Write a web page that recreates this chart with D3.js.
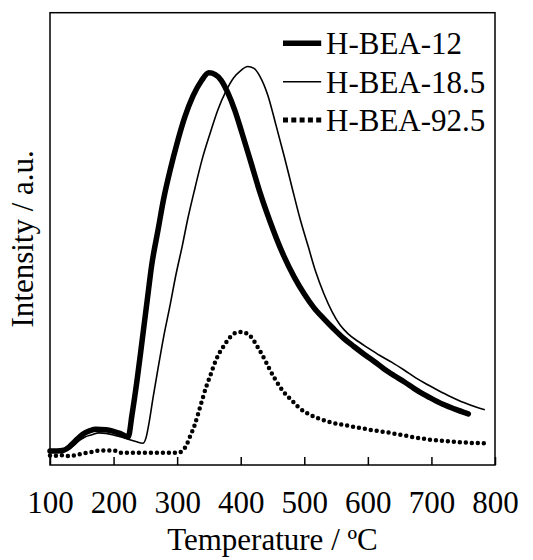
<!DOCTYPE html>
<html lang="en">
<head>
<meta charset="utf-8">
<script src="https://cdn.jsdelivr.net/npm/d3@7"></script>
</head>
<body style="margin:0;background:#fff">
<svg id="tpd" width="533" height="560" style="display:block" font-family="Liberation Serif">
</svg>
<script>
// ---- data (temperature in ºC, intensity in arbitrary units) ----
const seriesNames = ["H-BEA-12", "H-BEA-18.5", "H-BEA-92.5"];
const xTicks = [100, 200, 300, 400, 500, 600, 700, 800];

const bea12T = [100,111,122,131,139,147,155,163,172,188,201,210,223,229,237,245,253,260,270,279,289,300,312,325,338,350,360,369,380,391,402,415,430,446,465,484,500,515,531,547,562,578,594,610,625,641,657,673,688,704,720,736,758];
const bea12I = [3.1,3.1,3.3,4.1,5.2,6.3,7.1,7.6,7.9,7.8,7.4,7.0,6.2,11.1,18.8,27.6,36.5,44.2,52.0,59.0,65.2,71.2,76.9,81.6,84.9,86.7,86.3,85.1,82.2,78.3,73.4,67.4,60.4,53.9,47.1,41.6,37.8,34.8,32.3,30.0,28.0,26.2,24.5,22.9,21.3,19.8,18.4,16.9,15.6,14.4,13.3,12.4,11.3];

const bea185T = [100,111,122,131,139,147,155,166,177,188,201,212,223,235,246,251,256,262,270,279,289,298,308,317,328,339,352,364,377,389,400,411,421,430,443,455,468,481,493,506,518,531,544,556,569,585,600,619,638,657,676,695,713,732,751,770,784];
const bea185I = [3.0,3.0,3.1,3.6,4.5,5.5,6.2,6.7,7.1,7.0,6.6,6.2,5.7,5.2,4.8,6.0,9.5,14.8,21.4,28.5,35.4,42.0,48.4,54.6,61.2,67.4,73.4,78.5,82.7,85.6,87.2,88.1,87.7,86.0,81.6,75.4,68.5,61.2,54.6,48.4,42.7,37.8,33.8,31.0,29.0,27.3,25.9,24.2,22.7,21.0,19.2,17.7,16.3,15.0,13.8,12.8,12.2];

const bea925T = [100,105,116,128,142,153,166,177,201,210,242,301,308,314,320,327,333,339,345,352,358,364,371,377,383,389,396,402,408,415,421,427,434,440,446,454,462,471,481,490,500,509,522,540,572,603,635,666,698,729,761,784];
const bea925I = [2.1,2.0,2.2,2.0,2.2,2.6,2.9,3.2,3.2,2.7,2.7,2.7,3.1,4.2,6.2,8.6,11.3,14.2,17.0,19.7,22.1,24.1,25.8,27.1,28.2,29.0,29.3,29.4,29.2,28.5,27.4,26.0,24.3,22.7,21.0,19.0,17.2,15.6,14.2,12.9,11.8,11.1,10.3,9.5,8.6,7.8,7.1,6.3,5.6,5.2,4.9,4.8];

const xLabel = "Temperature / ºC";
const yLabel = "Intensity / a.u.";

// ---- layout ----
const svg = d3.select("#tpd");
const pL = 50, pR = 495, pT = 12.7, pB = 465;

const xs = d3.scaleLinear().domain([100, 800]).range([pL, pR]);
const ys = d3.scaleLinear().domain([0, 100]).range([pB, pT]);

const toPts = (ts, is) => ts.map((t, i) => [t, is[i]]);
const lineStyles = [
  { data: toPts(bea12T, bea12I), width: 5.5, dash: null, cap: "round" },
  { data: toPts(bea185T, bea185I), width: 1.6, dash: null, cap: "butt" },
  { data: toPts(bea925T, bea925I), width: 4.5, dash: "0 6", cap: "round" }
];

const lineGen = d3.line()
  .x(d => xs(d[0]))
  .y(d => ys(d[1]))
  .curve(d3.curveMonotoneX);

const plot = svg.append("g");
lineStyles.forEach(s => {
  plot.append("path")
    .attr("d", lineGen(s.data))
    .attr("fill", "none")
    .attr("stroke", "#000")
    .attr("stroke-width", s.width)
    .attr("stroke-linecap", s.cap)
    .attr("stroke-linejoin", "round")
    .attr("stroke-dasharray", s.dash);
});

// frame
svg.append("rect")
  .attr("x", pL).attr("y", pT)
  .attr("width", pR - pL).attr("height", pB - pT)
  .attr("fill", "none").attr("stroke", "#000").attr("stroke-width", 1.5);

function serif(sel) {
  return sel.attr("font-family", "Liberation Serif")
    .attr("font-size", 31)
    .attr("fill", "#000")
    .style("font-family", "'Liberation Serif'")
    .style("font-size", "31px");
}

// x axis (ticks inward)
const xAxis = svg.append("g")
  .attr("transform", `translate(0,${pB})`)
  .call(d3.axisBottom(xs).tickValues(xTicks).tickSizeInner(-8).tickSizeOuter(0).tickFormat(d3.format("d")));
xAxis.attr("font-family", "Liberation Serif").attr("font-size", 31);
xAxis.select(".domain").remove();
xAxis.selectAll(".tick line").attr("stroke", "#000").attr("stroke-width", 1.5);
serif(xAxis.selectAll(".tick text").attr("y", 48).attr("dy", 0));

// axis titles
serif(svg.append("text")
  .attr("x", (pL + pR) / 2).attr("y", 550)
  .attr("text-anchor", "middle"))
  .text(xLabel);

serif(svg.append("text")
  .attr("transform", `translate(33,${(pT + pB) / 2}) rotate(-90)`)
  .attr("text-anchor", "middle"))
  .text(yLabel);

// legend
const legY = [43.3, 81.7, 120];
const legStyles = [
  { width: 5.5, dash: null },
  { width: 1.6, dash: null },
  { width: 5, dash: "5 3.3" }
];
seriesNames.forEach((name, i) => {
  svg.append("line")
    .attr("x1", 283).attr("x2", 321.2)
    .attr("y1", legY[i]).attr("y2", legY[i])
    .attr("stroke", "#000")
    .attr("stroke-width", legStyles[i].width)
    .attr("stroke-dasharray", legStyles[i].dash);
  serif(svg.append("text")
    .attr("x", 326).attr("y", legY[i] + 11))
    .text(name);
});
</script>
</body>
</html>
